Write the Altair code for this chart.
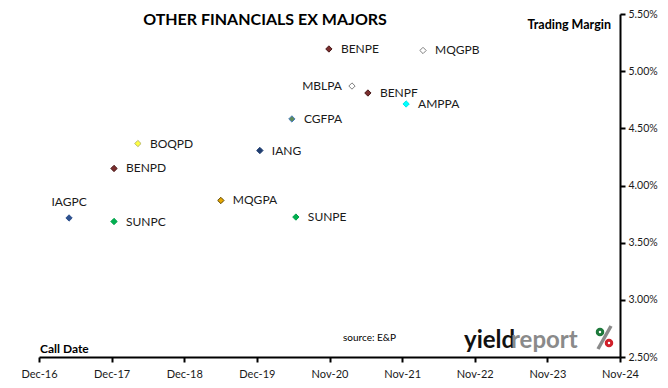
import altair as alt
import pandas as pd

# ---- data ----
codes = ["IAGPC", "BENPD", "SUNPC", "BOQPD", "MQGPA", "IANG", "CGFPA",
         "SUNPE", "BENPE", "MBLPA", "BENPF", "AMPPA", "MQGPB"]
call_dates = ["2017-05-01", "2017-12-13", "2017-12-13", "2018-04-12", "2019-06-03",
              "2019-12-16", "2020-05-25", "2020-06-14", "2020-11-27", "2021-03-23",
              "2021-06-11", "2021-12-20", "2022-03-15"]
margins_pct = [3.716, 4.149, 3.685, 4.367, 3.869, 4.306, 4.582,
               3.724, 5.194, 4.870, 4.809, 4.713, 5.181]

x_tick_dates = ["2016-12-01", "2017-12-01", "2018-12-01", "2019-12-01", "2020-11-30",
                "2021-11-30", "2022-11-30", "2023-11-30", "2024-11-29"]
x_tick_labels = ["Dec-16", "Dec-17", "Dec-18", "Dec-19", "Nov-20",
                 "Nov-21", "Nov-22", "Nov-23", "Nov-24"]
y_ticks_pct = [2.5, 3.0, 3.5, 4.0, 4.5, 5.0, 5.5]

# ---- styles ----
fills = {"IAGPC": "#2F528F", "BENPD": "#7B2E2E", "SUNPC": "#00B050", "BOQPD": "#FFFF40",
         "MQGPA": "#E8A800", "IANG": "#1F3D70", "CGFPA": "#5E8A5A", "SUNPE": "#00B050",
         "BENPE": "#7B2E2E", "MBLPA": "#FFFFFF", "BENPF": "#7B2E2E", "AMPPA": "#00FFFF",
         "MQGPB": "#FFFFFF"}
strokes = {"IAGPC": "#2F528F", "BENPD": "#4A1A1A", "SUNPC": "#00A048", "BOQPD": "#B8B870",
           "MQGPA": "#5A4500", "IANG": "#1F3D70", "CGFPA": "#4A7EBB", "SUNPE": "#00A048",
           "BENPE": "#4A1A1A", "MBLPA": "#7F7F7F", "BENPF": "#4A1A1A", "AMPPA": "#00E8E8",
           "MQGPB": "#7F7F7F"}
FONT = "Lato"

df = pd.DataFrame({"code": codes, "date": call_dates,
                   "margin": [m / 100 for m in margins_pct]})

def ms(d):
    return int(pd.Timestamp(d, tz="UTC").value // 10**6)

tick_ms = [ms(d) for d in x_tick_dates]
labels_js = "[" + ",".join(f"'{l}'" for l in x_tick_labels) + "]"
year_ms = 365 * 86400000
x_label_expr = f"{labels_js}[round((toNumber(datum.value) - {tick_ms[0]}) / {year_ms})]"

base = alt.Chart(df).encode(
    x=alt.X("date:T", title=None,
            scale=alt.Scale(type="utc", domain=[tick_ms[0], tick_ms[-1]], nice=False),
            axis=alt.Axis(values=tick_ms, labelExpr=x_label_expr, labelFontSize=11,
                          labelPadding=6, labelFlush=False, labelOverlap=False)),
    y=alt.Y("margin:Q", title=None,
            scale=alt.Scale(domain=[0.025, 0.055], nice=False, zero=False),
            axis=alt.Axis(orient="right", values=[v / 100 for v in y_ticks_pct],
                          format=".2%", labelPadding=3, labelFontSize=10.5,
                          labelFlush=False, labelOverlap=False)),
)

points = base.mark_point(shape="diamond", size=40, strokeWidth=1, opacity=1,
                         fillOpacity=1).encode(
    fill=alt.Fill("code:N", scale=alt.Scale(domain=codes, range=[fills[c] for c in codes]),
                  legend=None),
    stroke=alt.Stroke("code:N", scale=alt.Scale(domain=codes, range=[strokes[c] for c in codes]),
                      legend=None),
)

txt = dict(font=FONT, fontSize=12, color="#1a1a1a", baseline="middle")
lab_right = base.transform_filter(
    "indexof(['MBLPA','IAGPC'], datum.code) < 0"
).mark_text(align="left", dx=12, **txt).encode(text="code:N")
lab_left = base.transform_filter("datum.code == 'MBLPA'").mark_text(
    align="right", dx=-10, **txt).encode(text="code:N")
lab_above = base.transform_filter("datum.code == 'IAGPC'").mark_text(
    align="center", dy=-16, **txt).encode(text="code:N")

one = alt.Chart(alt.Data(values=[{}]))
def note(text, x, y, align="left", size=11, weight="normal", color="#000", baseline="middle"):
    return one.mark_text(text=text, font=FONT, fontSize=size, fontWeight=weight,
                         color=color, align=align, baseline=baseline).encode(
        x=alt.value(x), y=alt.value(y))

title = note("OTHER FINANCIALS EX MAJORS", 226, 6, align="center", size=16, weight="bold")
ylab = note("Trading  Margin", 572, 11, align="right", size=12.5, weight="bold")
xlab = note("Call Date", 1, 335, size=12, weight="bold")
source = note("source: E&P", 304, 324, size=10)
logo1 = note("yield", 425, 334, size=24, weight="bold", color="#111", baseline="alphabetic")
logo2 = note("report", 472, 334, size=24, weight="bold", color="#8a8a8a", baseline="alphabetic")

# logo "%" drawn as a grey slash with a green and a red ring
slash = one.mark_rule(color="#8a8a8a", strokeWidth=3.5).encode(
    x=alt.value(572), x2=alt.value(559), y=alt.value(312), y2=alt.value(335))
ring_g = one.mark_point(shape="circle", filled=False, size=30, strokeWidth=3,
                        color="#1e7a3c", opacity=1).encode(x=alt.value(561), y=alt.value(318))
ring_r = one.mark_point(shape="circle", filled=False, size=30, strokeWidth=3,
                        color="#d0202a", opacity=1).encode(x=alt.value(570), y=alt.value(329))

chart = alt.layer(points, lab_right, lab_left, lab_above,
                  title, ylab, xlab, source, logo1, logo2, slash, ring_g, ring_r).properties(
    width=581, height=343,
    autosize=alt.AutoSizeParams(type="none"),
    padding={"left": 31, "top": 6, "right": 40, "bottom": 22},
).configure_view(stroke=None).configure_axis(
    grid=False, domainColor="#000", domainWidth=2, tickColor="#000", tickWidth=2,
    tickSize=5, labelFont=FONT, labelColor="#1a1a1a",
)

chart.save("out.html", embed_options={"renderer": "svg", "actions": False})
